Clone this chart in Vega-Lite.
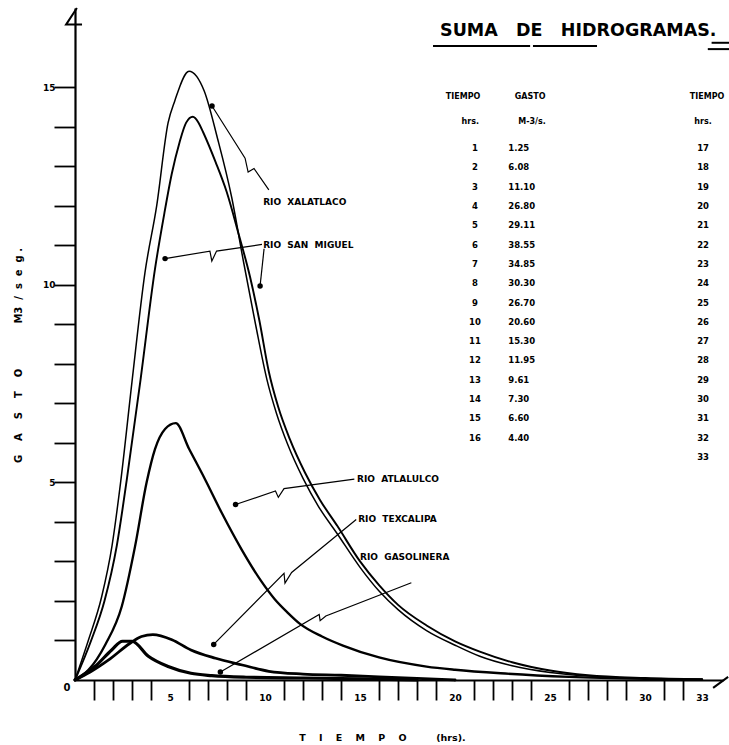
{
  "$schema": "https://vega.github.io/schema/vega-lite/v6.json",
  "width": 648,
  "height": 672,
  "autosize": {"type": "none"},
  "padding": {"left": 75, "top": 8, "right": 6, "bottom": 65},
  "background": "white",
  "config": {"view": {"stroke": null}, "font": "DejaVu Sans", "axis": {"labelOverlap": false}, "axisX": {"labelOverlap": false}},
  "datasets": {
    "curvas": [
      {"rio": "Xalatlaco", "t": 0, "q": 0}, {"rio": "Xalatlaco", "t": 0.7, "q": 1.0}, {"rio": "Xalatlaco", "t": 1.4, "q": 2.1}, {"rio": "Xalatlaco", "t": 1.95, "q": 3.4}, {"rio": "Xalatlaco", "t": 2.4, "q": 5.0}, {"rio": "Xalatlaco", "t": 3.0, "q": 7.55}, {"rio": "Xalatlaco", "t": 3.68, "q": 10.3}, {"rio": "Xalatlaco", "t": 4.3, "q": 12.0}, {"rio": "Xalatlaco", "t": 4.9, "q": 14.1}, {"rio": "Xalatlaco", "t": 5.25, "q": 14.65}, {"rio": "Xalatlaco", "t": 6.0, "q": 15.4}, {"rio": "Xalatlaco", "t": 6.8, "q": 14.9}, {"rio": "Xalatlaco", "t": 7.5, "q": 13.7}, {"rio": "Xalatlaco", "t": 8.25, "q": 12.2}, {"rio": "Xalatlaco", "t": 8.86, "q": 10.6}, {"rio": "Xalatlaco", "t": 9.5, "q": 9.0}, {"rio": "Xalatlaco", "t": 10.1, "q": 7.6}, {"rio": "Xalatlaco", "t": 10.6, "q": 6.75}, {"rio": "Xalatlaco", "t": 11.2, "q": 5.95}, {"rio": "Xalatlaco", "t": 12.0, "q": 5.1}, {"rio": "Xalatlaco", "t": 12.8, "q": 4.4}, {"rio": "Xalatlaco", "t": 13.8, "q": 3.7}, {"rio": "Xalatlaco", "t": 15, "q": 2.85}, {"rio": "Xalatlaco", "t": 16, "q": 2.25}, {"rio": "Xalatlaco", "t": 17, "q": 1.78}, {"rio": "Xalatlaco", "t": 18.5, "q": 1.25}, {"rio": "Xalatlaco", "t": 20, "q": 0.88}, {"rio": "Xalatlaco", "t": 21.3, "q": 0.6}, {"rio": "Xalatlaco", "t": 23, "q": 0.36}, {"rio": "Xalatlaco", "t": 25, "q": 0.19}, {"rio": "Xalatlaco", "t": 27, "q": 0.1}, {"rio": "Xalatlaco", "t": 30, "q": 0.04}, {"rio": "Xalatlaco", "t": 33, "q": 0.02},
      {"rio": "San Miguel", "t": 0, "q": 0}, {"rio": "San Miguel", "t": 0.85, "q": 1.0}, {"rio": "San Miguel", "t": 1.55, "q": 2.0}, {"rio": "San Miguel", "t": 2.2, "q": 3.4}, {"rio": "San Miguel", "t": 2.72, "q": 5.05}, {"rio": "San Miguel", "t": 3.45, "q": 7.6}, {"rio": "San Miguel", "t": 4.21, "q": 10.4}, {"rio": "San Miguel", "t": 4.7, "q": 11.8}, {"rio": "San Miguel", "t": 5.09, "q": 12.8}, {"rio": "San Miguel", "t": 5.5, "q": 13.6}, {"rio": "San Miguel", "t": 5.85, "q": 14.1}, {"rio": "San Miguel", "t": 6.2, "q": 14.25}, {"rio": "San Miguel", "t": 6.5, "q": 14.1}, {"rio": "San Miguel", "t": 6.75, "q": 13.85}, {"rio": "San Miguel", "t": 7.4, "q": 13.1}, {"rio": "San Miguel", "t": 7.98, "q": 12.35}, {"rio": "San Miguel", "t": 8.6, "q": 11.3}, {"rio": "San Miguel", "t": 9.21, "q": 10.2}, {"rio": "San Miguel", "t": 9.7, "q": 9.1}, {"rio": "San Miguel", "t": 10.2, "q": 7.8}, {"rio": "San Miguel", "t": 10.7, "q": 6.9}, {"rio": "San Miguel", "t": 11.3, "q": 6.1}, {"rio": "San Miguel", "t": 12.1, "q": 5.25}, {"rio": "San Miguel", "t": 12.9, "q": 4.55}, {"rio": "San Miguel", "t": 13.8, "q": 3.9}, {"rio": "San Miguel", "t": 15, "q": 3.0}, {"rio": "San Miguel", "t": 16, "q": 2.4}, {"rio": "San Miguel", "t": 17, "q": 1.9}, {"rio": "San Miguel", "t": 18.5, "q": 1.38}, {"rio": "San Miguel", "t": 20, "q": 0.98}, {"rio": "San Miguel", "t": 21.3, "q": 0.72}, {"rio": "San Miguel", "t": 23, "q": 0.45}, {"rio": "San Miguel", "t": 25, "q": 0.24}, {"rio": "San Miguel", "t": 27, "q": 0.12}, {"rio": "San Miguel", "t": 30, "q": 0.05}, {"rio": "San Miguel", "t": 33, "q": 0.02},
      {"rio": "Atlalulco", "t": 0, "q": 0}, {"rio": "Atlalulco", "t": 0.7, "q": 0.25}, {"rio": "Atlalulco", "t": 1.6, "q": 0.9}, {"rio": "Atlalulco", "t": 2.46, "q": 1.86}, {"rio": "Atlalulco", "t": 3.16, "q": 3.38}, {"rio": "Atlalulco", "t": 3.77, "q": 5.0}, {"rio": "Atlalulco", "t": 4.21, "q": 5.84}, {"rio": "Atlalulco", "t": 4.74, "q": 6.35}, {"rio": "Atlalulco", "t": 5.3, "q": 6.5}, {"rio": "Atlalulco", "t": 6.0, "q": 5.85}, {"rio": "Atlalulco", "t": 6.84, "q": 5.08}, {"rio": "Atlalulco", "t": 7.72, "q": 4.23}, {"rio": "Atlalulco", "t": 8.77, "q": 3.3}, {"rio": "Atlalulco", "t": 9.8, "q": 2.5}, {"rio": "Atlalulco", "t": 10.5, "q": 2.05}, {"rio": "Atlalulco", "t": 11.2, "q": 1.7}, {"rio": "Atlalulco", "t": 11.84, "q": 1.42}, {"rio": "Atlalulco", "t": 13, "q": 1.1}, {"rio": "Atlalulco", "t": 14.1, "q": 0.87}, {"rio": "Atlalulco", "t": 16, "q": 0.57}, {"rio": "Atlalulco", "t": 18.5, "q": 0.34}, {"rio": "Atlalulco", "t": 20, "q": 0.26}, {"rio": "Atlalulco", "t": 22.4, "q": 0.17}, {"rio": "Atlalulco", "t": 26, "q": 0.08}, {"rio": "Atlalulco", "t": 30, "q": 0.03}, {"rio": "Atlalulco", "t": 33, "q": 0.01},
      {"rio": "Texcalipa", "t": 0, "q": 0}, {"rio": "Texcalipa", "t": 0.8, "q": 0.2}, {"rio": "Texcalipa", "t": 1.75, "q": 0.5}, {"rio": "Texcalipa", "t": 2.9, "q": 0.93}, {"rio": "Texcalipa", "t": 3.5, "q": 1.1}, {"rio": "Texcalipa", "t": 4.1, "q": 1.15}, {"rio": "Texcalipa", "t": 5.1, "q": 1.02}, {"rio": "Texcalipa", "t": 6.1, "q": 0.76}, {"rio": "Texcalipa", "t": 7.4, "q": 0.55}, {"rio": "Texcalipa", "t": 8.8, "q": 0.38}, {"rio": "Texcalipa", "t": 10.2, "q": 0.22}, {"rio": "Texcalipa", "t": 12, "q": 0.15}, {"rio": "Texcalipa", "t": 14, "q": 0.12}, {"rio": "Texcalipa", "t": 16, "q": 0.08}, {"rio": "Texcalipa", "t": 18, "q": 0.04}, {"rio": "Texcalipa", "t": 20, "q": 0.0},
      {"rio": "Gasolinera", "t": 0, "q": 0}, {"rio": "Gasolinera", "t": 1.05, "q": 0.34}, {"rio": "Gasolinera", "t": 1.93, "q": 0.76}, {"rio": "Gasolinera", "t": 2.5, "q": 0.98}, {"rio": "Gasolinera", "t": 3.0, "q": 0.98}, {"rio": "Gasolinera", "t": 3.86, "q": 0.6}, {"rio": "Gasolinera", "t": 4.9, "q": 0.34}, {"rio": "Gasolinera", "t": 6.1, "q": 0.17}, {"rio": "Gasolinera", "t": 7.2, "q": 0.11}, {"rio": "Gasolinera", "t": 9, "q": 0.07}, {"rio": "Gasolinera", "t": 12, "q": 0.05}, {"rio": "Gasolinera", "t": 15, "q": 0.03}, {"rio": "Gasolinera", "t": 18, "q": 0.0}
    ],
    "flechas": [
      {"rio": "Xalatlaco", "n": 1, "t": 10.2, "q": 12.4}, {"rio": "Xalatlaco", "n": 2, "t": 9.42, "q": 12.94}, {"rio": "Xalatlaco", "n": 3, "t": 9.11, "q": 12.85}, {"rio": "Xalatlaco", "n": 4, "t": 8.95, "q": 13.2}, {"rio": "Xalatlaco", "n": 5, "t": 7.21, "q": 14.52},
      {"rio": "San Miguel", "n": 1, "t": 9.84, "q": 11.02}, {"rio": "San Miguel", "n": 2, "t": 7.45, "q": 10.85}, {"rio": "San Miguel", "n": 3, "t": 7.2, "q": 10.6}, {"rio": "San Miguel", "n": 4, "t": 7.1, "q": 10.85}, {"rio": "San Miguel", "n": 5, "t": 4.74, "q": 10.66},
      {"rio": "San Miguel 2", "n": 1, "t": 9.95, "q": 10.91}, {"rio": "San Miguel 2", "n": 2, "t": 9.74, "q": 9.97},
      {"rio": "Atlalulco", "n": 1, "t": 14.7, "q": 5.08}, {"rio": "Atlalulco", "n": 2, "t": 11.0, "q": 4.84}, {"rio": "Atlalulco", "n": 3, "t": 10.7, "q": 4.62}, {"rio": "Atlalulco", "n": 4, "t": 10.55, "q": 4.78}, {"rio": "Atlalulco", "n": 5, "t": 8.45, "q": 4.44},
      {"rio": "Texcalipa", "n": 1, "t": 14.8, "q": 4.06}, {"rio": "Texcalipa", "n": 2, "t": 11.4, "q": 2.72}, {"rio": "Texcalipa", "n": 3, "t": 11.05, "q": 2.45}, {"rio": "Texcalipa", "n": 4, "t": 11.0, "q": 2.7}, {"rio": "Texcalipa", "n": 5, "t": 7.3, "q": 0.9},
      {"rio": "Gasolinera", "n": 1, "t": 17.7, "q": 2.46}, {"rio": "Gasolinera", "n": 2, "t": 13.2, "q": 1.62}, {"rio": "Gasolinera", "n": 3, "t": 12.9, "q": 1.5}, {"rio": "Gasolinera", "n": 4, "t": 12.85, "q": 1.66}, {"rio": "Gasolinera", "n": 5, "t": 7.65, "q": 0.2}
    ],
    "puntas": [
      {"rio": "Xalatlaco", "t": 7.21, "q": 14.52},
      {"rio": "San Miguel", "t": 4.74, "q": 10.66},
      {"rio": "San Miguel 2", "t": 9.74, "q": 9.97},
      {"rio": "Atlalulco", "t": 8.45, "q": 4.44},
      {"rio": "Texcalipa", "t": 7.3, "q": 0.9},
      {"rio": "Gasolinera", "t": 7.65, "q": 0.2}
    ],
    "rotulos": [
      {"texto": "RIO\u00a0\u00a0XALATLACO", "t": 9.9, "q": 12.1},
      {"texto": "RIO\u00a0\u00a0SAN\u00a0\u00a0MIGUEL", "t": 9.9, "q": 11.0},
      {"texto": "RIO\u00a0\u00a0ATLALULCO", "t": 14.84, "q": 5.08},
      {"texto": "RIO\u00a0\u00a0TEXCALIPA", "t": 14.9, "q": 4.07},
      {"texto": "RIO\u00a0\u00a0GASOLINERA", "t": 15.0, "q": 3.12}
    ],
    "titulo": [
      {"texto": "SUMA\u00a0\u00a0\u00a0DE\u00a0\u00a0\u00a0HIDROGRAMAS.", "t": 19.21, "q": 16.42}
    ],
    "origen": [
      {"texto": "0", "t": 0, "q": 0}
    ],
    "subrayado": [
      {"g": "a", "t": 18.84, "q": 16.04}, {"g": "a", "t": 23.95, "q": 16.04},
      {"g": "b", "t": 24.1, "q": 16.04}, {"g": "b", "t": 27.47, "q": 16.04},
      {"g": "c", "t": 33.5, "q": 16.12}, {"g": "c", "t": 34.5, "q": 16.12},
      {"g": "d", "t": 33.3, "q": 15.96}, {"g": "d", "t": 34.5, "q": 15.96}
    ],
    "ejes": [
      {"g": "y", "n": 1, "t": 0.1, "q": 17.0}, {"g": "y", "n": 2, "t": -0.47, "q": 16.58}, {"g": "y", "n": 3, "t": 0.37, "q": 16.58},
      {"g": "x", "n": 1, "t": 33.58, "q": -0.2}, {"g": "x", "n": 2, "t": 34.37, "q": 0.08}
    ],
    "tabla": [
      {"fila": 1, "hora": "1", "gasto": "1.25", "hora2": "17"}, {"fila": 2, "hora": "2", "gasto": "6.08", "hora2": "18"}, {"fila": 3, "hora": "3", "gasto": "11.10", "hora2": "19"}, {"fila": 4, "hora": "4", "gasto": "26.80", "hora2": "20"},
      {"fila": 5, "hora": "5", "gasto": "29.11", "hora2": "21"}, {"fila": 6, "hora": "6", "gasto": "38.55", "hora2": "22"}, {"fila": 7, "hora": "7", "gasto": "34.85", "hora2": "23"}, {"fila": 8, "hora": "8", "gasto": "30.30", "hora2": "24"},
      {"fila": 9, "hora": "9", "gasto": "26.70", "hora2": "25"}, {"fila": 10, "hora": "10", "gasto": "20.60", "hora2": "26"}, {"fila": 11, "hora": "11", "gasto": "15.30", "hora2": "27"}, {"fila": 12, "hora": "12", "gasto": "11.95", "hora2": "28"},
      {"fila": 13, "hora": "13", "gasto": "9.61", "hora2": "29"}, {"fila": 14, "hora": "14", "gasto": "7.30", "hora2": "30"}, {"fila": 15, "hora": "15", "gasto": "6.60", "hora2": "31"}, {"fila": 16, "hora": "16", "gasto": "4.40", "hora2": "32"},
      {"fila": 17, "hora": "", "gasto": "", "hora2": "33"}
    ],
    "encabezados": [
      {"texto": "TIEMPO", "t": 20.42, "fila": -1.64},
      {"texto": "GASTO", "t": 23.95, "fila": -1.64},
      {"texto": "TIEMPO", "t": 33.26, "fila": -1.64},
      {"texto": "hrs.", "t": 20.8, "fila": -0.35},
      {"texto": "M-3/s.", "t": 24.05, "fila": -0.35},
      {"texto": "hrs.", "t": 33.05, "fila": -0.35}
    ]
  },
  "layer": [
    {
      "encoding": {
        "x": {
          "field": "t", "type": "quantitative",
          "scale": {"domain": [0, 34.1], "nice": false, "zero": false},
          "axis": {
            "values": [1,2,3,4,5,6,7,8,9,10,11,12,13,14,15,16,17,18,19,20,21,22,23,24,25,26,27,28,29,30,31,32,33],
            "format": "d",
            "grid": false,
            "domainColor": "black", "domainWidth": 2.2,
            "tickColor": "black", "tickWidth": 1.8, "tickSize": 20,
            "tickOpacity": {"condition": {"test": "datum.value % 5 === 0 || datum.value === 33", "value": 0}, "value": 1},
            "labelExpr": "datum.value % 5 === 0 || datum.value === 33 ? datum.label : ''",
            "labelFont": "DejaVu Sans", "labelFontWeight": "bold", "labelFontSize": 9, "labelColor": "black",
            "labelBaseline": "middle", "labelPadding": -3, "labelOverlap": false, "labelFlush": false, "labelBound": false,
            "title": "T\u00a0\u00a0\u00a0\u00a0I\u00a0\u00a0\u00a0\u00a0E\u00a0\u00a0\u00a0\u00a0M\u00a0\u00a0\u00a0\u00a0P\u00a0\u00a0\u00a0\u00a0O\u00a0\u00a0\u00a0\u00a0\u00a0\u00a0\u00a0\u00a0\u00a0(hrs).",
            "titleFont": "DejaVu Sans", "titleFontWeight": "bold", "titleFontSize": 9.5, "titleColor": "black",
            "titleX": 307, "titleY": 57, "titleAlign": "center", "titleBaseline": "middle", "titleAnchor": null
          }
        },
        "y": {
          "field": "q", "type": "quantitative",
          "scale": {"domain": [0, 17], "nice": false, "zero": false},
          "axis": {
            "values": [1,2,3,4,5,6,7,8,9,10,11,12,13,14,15],
            "format": "d",
            "grid": false,
            "domainColor": "black", "domainWidth": 2.2,
            "tickColor": "black", "tickWidth": 1.8, "tickSize": 21,
            "labelExpr": "datum.value % 5 === 0 ? datum.label : ''",
            "labelFont": "DejaVu Sans", "labelFontWeight": "bold", "labelFontSize": 9, "labelColor": "black",
            "labelPadding": -1, "labelOverlap": false, "labelFlush": false,
            "title": "G\u00a0\u00a0\u00a0\u00a0A\u00a0\u00a0\u00a0\u00a0S\u00a0\u00a0\u00a0\u00a0T\u00a0\u00a0\u00a0\u00a0O\u00a0\u00a0\u00a0\u00a0\u00a0\u00a0\u00a0\u00a0\u00a0\u00a0\u00a0\u00a0\u00a0M3\u00a0\u00a0/\u00a0\u00a0s\u00a0\u00a0e\u00a0\u00a0g\u00a0.",
            "titleFont": "DejaVu Sans", "titleFontWeight": "bold", "titleFontSize": 10, "titleColor": "black",
            "titleX": -57, "titleY": 347, "titleAngle": 270, "titleAlign": "center", "titleBaseline": "middle", "titleAnchor": null
          }
        }
      },
      "layer": [
        {
          "data": {"name": "curvas"},
          "mark": {"type": "line", "interpolate": "monotone", "color": "black", "strokeCap": "round"},
          "encoding": {
            "detail": {"field": "rio", "type": "nominal"},
            "strokeWidth": {"field": "rio", "type": "ordinal", "scale": {"domain": ["Xalatlaco", "San Miguel", "Atlalulco", "Texcalipa", "Gasolinera"], "range": [1.5, 3.2, 2.2, 1.6, 2.6]}, "legend": null}
          }
        },
        {
          "data": {"name": "flechas"},
          "mark": {"type": "line", "color": "black", "strokeWidth": 1.2},
          "encoding": {
            "detail": {"field": "rio", "type": "nominal"},
            "order": {"field": "n", "type": "quantitative"}
          }
        },
        {
          "data": {"name": "puntas"},
          "mark": {"type": "point", "shape": "circle", "filled": true, "color": "black", "opacity": 1, "size": 30},
          "encoding": {}
        },
        {
          "data": {"name": "rotulos"},
          "mark": {"type": "text", "align": "left", "baseline": "middle", "font": "DejaVu Sans", "fontWeight": "bold", "fontSize": 9, "color": "black"},
          "encoding": {"text": {"field": "texto", "type": "nominal"}}
        },
        {
          "data": {"name": "origen"},
          "mark": {"type": "text", "dx": -8, "dy": 8, "font": "DejaVu Sans", "fontWeight": "bold", "fontSize": 10, "color": "black"},
          "encoding": {"text": {"field": "texto", "type": "nominal"}}
        },
        {
          "data": {"name": "titulo"},
          "mark": {"type": "text", "align": "left", "baseline": "middle", "font": "DejaVu Sans", "fontWeight": "bold", "fontSize": 17.5, "color": "black"},
          "encoding": {"text": {"field": "texto", "type": "nominal"}}
        },
        {
          "data": {"name": "subrayado"},
          "mark": {"type": "line", "color": "black", "strokeWidth": 2, "clip": false},
          "encoding": {"detail": {"field": "g", "type": "nominal"}}
        },
        {
          "data": {"name": "ejes"},
          "mark": {"type": "line", "color": "black", "strokeWidth": 2, "clip": false},
          "encoding": {"detail": {"field": "g", "type": "nominal"}, "order": {"field": "n", "type": "quantitative"}}
        }
      ]
    },
    {
      "encoding": {
        "y": {"field": "fila", "type": "quantitative", "scale": {"domain": [1, 17], "range": [140, 449], "nice": false, "zero": false}, "axis": null}
      },
      "layer": [
        {
          "data": {"name": "tabla"},
          "mark": {"type": "text", "align": "center", "baseline": "middle", "font": "DejaVu Sans", "fontWeight": "bold", "fontSize": 8.5, "color": "black"},
          "encoding": {"x": {"datum": 21.05, "type": "quantitative", "scale": {"domain": [0, 34.1], "nice": false, "zero": false}, "axis": null}, "text": {"field": "hora", "type": "nominal"}}
        },
        {
          "data": {"name": "tabla"},
          "mark": {"type": "text", "align": "left", "baseline": "middle", "font": "DejaVu Sans", "fontWeight": "bold", "fontSize": 8.5, "color": "black"},
          "encoding": {"x": {"datum": 22.8, "type": "quantitative", "scale": {"domain": [0, 34.1], "nice": false, "zero": false}, "axis": null}, "text": {"field": "gasto", "type": "nominal"}}
        },
        {
          "data": {"name": "tabla"},
          "mark": {"type": "text", "align": "center", "baseline": "middle", "font": "DejaVu Sans", "fontWeight": "bold", "fontSize": 8.5, "color": "black"},
          "encoding": {"x": {"datum": 33.05, "type": "quantitative", "scale": {"domain": [0, 34.1], "nice": false, "zero": false}, "axis": null}, "text": {"field": "hora2", "type": "nominal"}}
        },
        {
          "data": {"name": "encabezados"},
          "mark": {"type": "text", "align": "center", "baseline": "middle", "font": "DejaVu Sans", "fontWeight": "bold", "fontSize": 8, "color": "black"},
          "encoding": {"x": {"field": "t", "type": "quantitative", "scale": {"domain": [0, 34.1], "nice": false, "zero": false}, "axis": null}, "text": {"field": "texto", "type": "nominal"}}
        }
      ]
    }
  ],
  "resolve": {"scale": {"x": "independent", "y": "independent"}, "axis": {"x": "independent", "y": "independent"}}
}
